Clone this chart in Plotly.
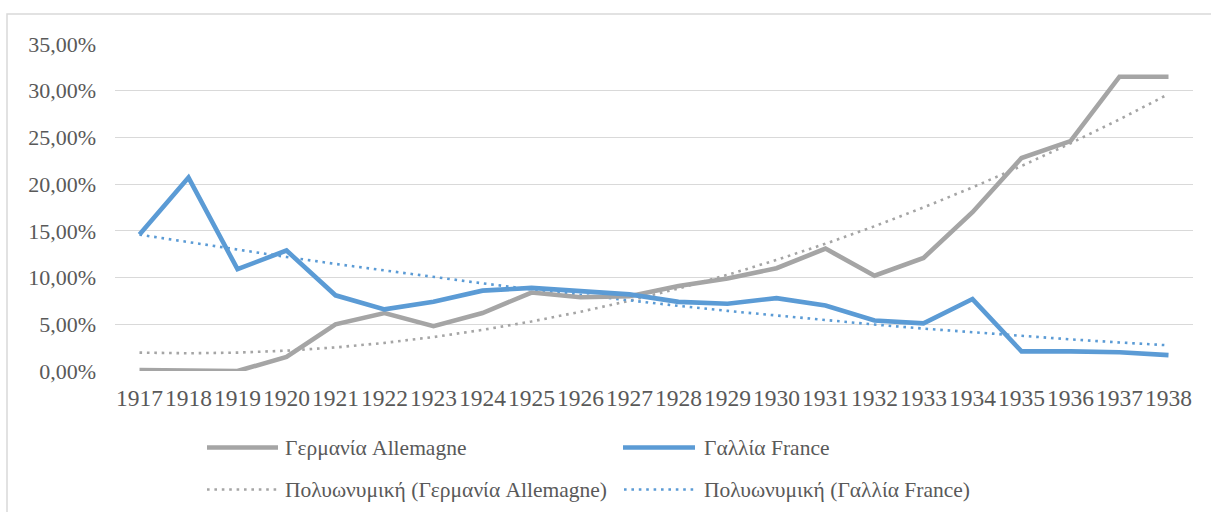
import numpy as np
import plotly.graph_objects as go

years = [str(y) for y in range(1917, 1939)]
germany = [0.1, 0.0, 0.0, 1.5, 5.0, 6.2, 4.8, 6.2, 8.4, 7.9, 8.0, 9.1, 9.9, 11.0, 13.1, 10.2,
           12.1, 17.0, 22.8, 24.6, 31.5, 31.5]
france = [14.6, 20.7, 10.9, 12.9, 8.1, 6.6, 7.4, 8.6, 8.9, 8.5, 8.2, 7.4, 7.2, 7.8, 7.0, 5.4,
          5.1, 7.7, 2.1, 2.1, 2.0, 1.7]
name_de = "Γερμανία Allemagne"
name_fr = "Γαλλία France"
trend_de = "Πολυωνυμική (Γερμανία Allemagne)"
trend_fr = "Πολυωνυμική (Γαλλία France)"
y_ticks = [0, 5, 10, 15, 20, 25, 30, 35]
y_tick_labels = ["0,00%", "5,00%", "10,00%", "15,00%", "20,00%", "25,00%", "30,00%", "35,00%"]

GRAY = "#A5A5A5"
BLUE = "#5B9BD5"
TXT = "#595959"
FONT = "Liberation Serif"
DOT = "2.6px,4.8px"

# polynomial (order 2) trendlines, as Excel computes them from the series
idx = np.arange(len(years))
fit_de = np.polyval(np.polyfit(idx, germany, 2), idx)
fit_fr = np.polyval(np.polyfit(idx, france, 2), idx)

W, H = 1211, 512
L, R, T, B = 115, 18, 44, 141
PW = W - L - R
PH = H - T - B


def px(x):
    return (x - L) / PW


def py(y):
    return (H - B - y) / PH


fig = go.Figure()
fig.add_trace(go.Scatter(x=years, y=fit_de, mode="lines", name=trend_de,
                         line=dict(color=GRAY, width=2.6, dash=DOT)))
fig.add_trace(go.Scatter(x=years, y=fit_fr, mode="lines", name=trend_fr,
                         line=dict(color=BLUE, width=2.6, dash=DOT)))
fig.add_trace(go.Scatter(x=years, y=germany, mode="lines", name=name_de,
                         line=dict(color=GRAY, width=4.6)))
fig.add_trace(go.Scatter(x=years, y=france, mode="lines", name=name_fr,
                         line=dict(color=BLUE, width=4.6)))

shapes = [
    # chart border
    dict(type="rect", xref="paper", yref="paper", x0=px(7), x1=px(1230), y0=py(530), y1=py(14),
         line=dict(color="#D9D9D9", width=1.5), fillcolor="rgba(0,0,0,0)", layer="below"),
]
annotations = []
legend_items = [
    (name_de, GRAY, "solid", 4.6, 207, 278, 283, 447.5),
    (name_fr, BLUE, "solid", 4.6, 623, 695, 702, 447.5),
    (trend_de, GRAY, DOT, 2.6, 207, 278, 283, 489.5),
    (trend_fr, BLUE, DOT, 2.6, 624, 696, 702, 489.5),
]
for text, col, dash, w, lx0, lx1, tx, ty in legend_items:
    shapes.append(dict(type="line", xref="paper", yref="paper", x0=px(lx0), x1=px(lx1),
                       y0=py(ty), y1=py(ty), line=dict(color=col, width=w, dash=dash)))
    annotations.append(dict(text=text, xref="paper", yref="paper", x=px(tx), y=py(ty),
                            xanchor="left", yanchor="middle", showarrow=False,
                            font=dict(family=FONT, size=21.5, color=TXT)))

fig.update_layout(
    width=W, height=H,
    margin=dict(l=L, r=R, t=T, b=B),
    paper_bgcolor="white", plot_bgcolor="white",
    showlegend=False,
    font=dict(family=FONT, size=22, color=TXT),
    shapes=shapes,
    annotations=annotations,
    xaxis=dict(type="category", range=[-0.5, len(years) - 0.5], showgrid=False,
               zeroline=False, showline=False, ticks="", ticklabelstandoff=10,
               tickangle=0,
               tickfont=dict(family=FONT, size=23.5, color=TXT)),
    yaxis=dict(range=[0, 35], tickmode="array", tickvals=y_ticks, ticktext=y_tick_labels,
               showgrid=True, gridcolor="#D9D9D9", gridwidth=1.3, zeroline=False,
               showline=False, ticks="", ticklabelstandoff=18,
               tickfont=dict(family=FONT, size=22, color=TXT)),
)

fig.write_html("out.html", config={"displayModeBar": False},
               post_script="document.body.style.margin='0';")
